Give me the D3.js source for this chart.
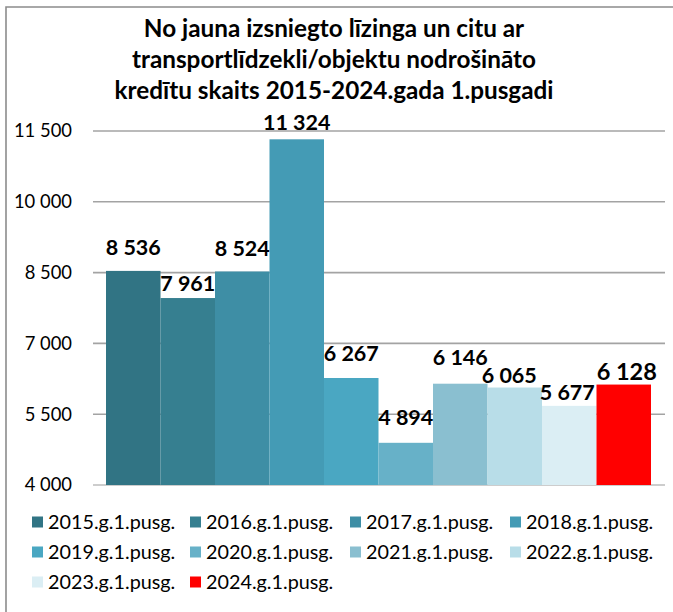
<!DOCTYPE html>
<html>
<head>
<meta charset="utf-8">
<script src="https://cdn.jsdelivr.net/npm/d3@7/dist/d3.min.js"></script>
<style>
  html, body { margin: 0; padding: 0; background: #fff; }
  svg { display: block; }
</style>
</head>
<body>
<svg id="chart" width="673" height="612"></svg>
<script>
// ---- data ----
const titleLines = [
  "No jauna izsniegto līzinga un citu ar",
  "transportlīdzekli/objektu nodrošināto",
  "kredītu skaits 2015-2024.gada 1.pusgadi"
];
const series = ["2015.g.1.pusg.", "2016.g.1.pusg.", "2017.g.1.pusg.", "2018.g.1.pusg.",
                "2019.g.1.pusg.", "2020.g.1.pusg.", "2021.g.1.pusg.", "2022.g.1.pusg.",
                "2023.g.1.pusg.", "2024.g.1.pusg."];
const values = [8536, 7961, 8524, 11324, 6267, 4894, 6146, 6065, 5677, 6128];
const yTicks = [4000, 5500, 7000, 8500, 10000, 11500];

// ---- styles / layout ----
const colors = ["#317484", "#367f90", "#3e8ea5", "#449bb5", "#4aa7c2",
                "#67b1c8", "#8abfd0", "#b8dde8", "#dbeef4", "#ff0000"];
// label gap (px above bar top to label centre) and horizontal nudge, mimicking the original label placement
const labelGap = [24, 15, 23.5, 17, 25, 26, 26, 12.5, 14, 12.6];
const labelDx  = [0, 0, 0, 0, 0, 0, 0, -5.5, -2, 3];

const fmt = v => d3.format(",")(v).replace(/,/g, " ");
const svg = d3.select("#chart");
const FONT = "Lato, 'Open Sans', sans-serif";

svg.append("rect").attr("width", 673).attr("height", 612).attr("fill", "#fff");

// frame (top and left visible)
svg.append("path")
  .attr("d", "M6,612 L6,7 L673,7")
  .attr("fill", "none").attr("stroke", "#8c8c8c").attr("stroke-width", 1.6);

// title
const title = svg.append("text")
  .attr("text-anchor", "middle")
  .attr("font-family", FONT).attr("font-weight", "bold")
  .attr("font-size", 24.3).attr("fill", "#000");
titleLines.forEach((t, i) => {
  title.append("tspan").attr("x", 334).attr("y", 37 + i * 31).text(t);
});

// scales
const y = d3.scaleLinear().domain([4000, 11500]).range([485, 131]);
const x = d3.scaleBand().domain(series).range([106, 651]).padding(0);

// gridlines
svg.append("g").selectAll("line").data(yTicks).join("line")
  .attr("x1", 93).attr("x2", 665)
  .attr("y1", d => y(d)).attr("y2", d => y(d))
  .attr("stroke", d => d === 4000 ? "#bdbdbd" : "#a3a3a3")
  .attr("stroke-width", 1.6);

// y axis labels
const yAxis = d3.axisLeft(y).tickValues(yTicks).tickFormat(fmt).tickSize(0).tickPadding(0);
const ya = svg.append("g").attr("transform", "translate(72,0)").call(yAxis);
ya.select(".domain").remove();
ya.selectAll("text")
  .attr("font-family", FONT).attr("font-size", 18.4).attr("fill", "#000");

// bars
svg.append("g").selectAll("rect").data(values).join("rect")
  .attr("x", (d, i) => x(series[i]))
  .attr("width", x.bandwidth())
  .attr("y", d => y(d))
  .attr("height", d => y(4000) - y(d))
  .attr("fill", (d, i) => colors[i]);

// value labels
svg.append("g").selectAll("text").data(values).join("text")
  .attr("x", (d, i) => x(series[i]) + x.bandwidth() / 2 + labelDx[i])
  .attr("y", (d, i) => y(d) - labelGap[i])
  .attr("dy", "0.36em")
  .attr("text-anchor", "middle")
  .attr("font-family", FONT).attr("font-weight", "bold")
  .attr("font-size", (d, i) => i === 9 ? 23.5 : 21.5)
  .attr("fill", "#000")
  .text(d => fmt(d));

// legend
const legend = svg.append("g");
const colX = [32, 190, 350, 510];
const rowY = [522, 552, 582];
series.forEach((s, i) => {
  const cx = colX[i % 4], cy = rowY[Math.floor(i / 4)];
  legend.append("rect")
    .attr("x", cx).attr("y", cy - 5.5).attr("width", 11).attr("height", 11)
    .attr("fill", colors[i]);
  legend.append("text")
    .attr("x", cx + 16).attr("y", cy).attr("dy", "0.36em")
    .attr("font-family", FONT).attr("font-size", 19.8).attr("fill", "#000")
    .text(s);
});
</script>
</body>
</html>
